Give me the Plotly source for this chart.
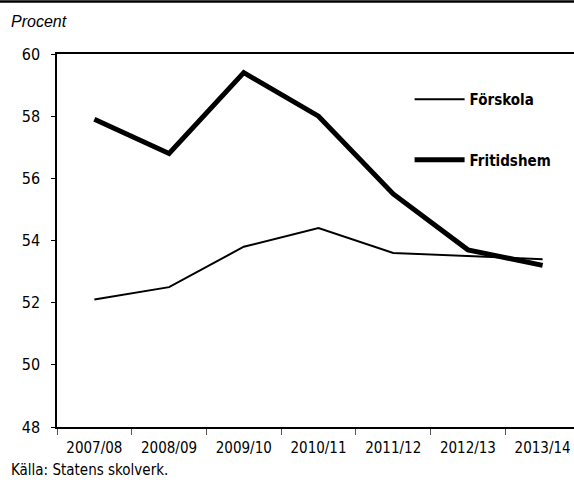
"""Andel inskrivna barn i förskola och fritidshem, 2007/08–2013/14."""

import plotly.graph_objects as go

SEASONS = ["2007/08", "2008/09", "2009/10", "2010/11", "2011/12", "2012/13", "2013/14"]
FORSKOLA = [52.1, 52.5, 53.8, 54.4, 53.6, 53.5, 53.4]
FRITIDSHEM = [57.9, 56.8, 59.4, 58.0, 55.5, 53.7, 53.2]
Y_TICKS = [48, 50, 52, 54, 56, 58, 60]

NARROW = "Liberation Sans Narrow, DejaVu Sans Condensed, Roboto Condensed, sans-serif"
BLACK = "#000000"

W, H = 574, 484
M_L, M_R, M_T, M_B = 57, 0, 54, 57
PW, PH = W - M_L - M_R, H - M_T - M_B

fig = go.Figure()
fig.add_trace(
    go.Scatter(
        x=SEASONS,
        y=FORSKOLA,
        name="<b>Förskola</b>",
        mode="lines",
        line=dict(color=BLACK, width=2),
        legendgroup="a",
    )
)
fig.add_trace(
    go.Scatter(
        x=SEASONS,
        y=FRITIDSHEM,
        name="<b>Fritidshem</b>",
        mode="lines",
        line=dict(color=BLACK, width=5),
        legendgroup="b",
    )
)

fig.update_layout(
    width=W,
    height=H,
    margin=dict(l=M_L, r=M_R, t=M_T, b=M_B, autoexpand=False),
    paper_bgcolor="white",
    plot_bgcolor="white",
    font=dict(family=NARROW, size=15, color=BLACK),
    showlegend=True,
    legend=dict(
        x=0.682,
        y=0.922,
        xanchor="left",
        yanchor="top",
        bgcolor="rgba(0,0,0,0)",
        itemwidth=50,
        tracegroupgap=38,
        traceorder="grouped",
        font=dict(family=NARROW, size=15, color=BLACK),
    ),
    xaxis=dict(
        type="category",
        range=[-0.5, 6.42],
        showgrid=False,
        showline=True,
        linecolor=BLACK,
        linewidth=1.5,
        mirror=True,
        ticks="outside",
        tickson="boundaries",
        ticklen=6,
        tickcolor="#555555",
        ticklabelstandoff=6,
        tickfont=dict(family=NARROW, size=15),
        zeroline=False,
    ),
    yaxis=dict(
        range=[48, 60],
        tickvals=Y_TICKS,
        showgrid=False,
        showline=True,
        linecolor=BLACK,
        linewidth=1.5,
        ticks="outside",
        ticklen=4,
        tickcolor=BLACK,
        ticklabelstandoff=8,
        tickfont=dict(family=NARROW, size=16),
        zeroline=False,
    ),
)

# top border across the whole page
fig.add_shape(
    type="line",
    xref="paper",
    yref="paper",
    x0=-M_L / PW,
    x1=1,
    y0=1 + (M_T - 1.5) / PH,
    y1=1 + (M_T - 1.5) / PH,
    line=dict(color=BLACK, width=2.5),
)

fig.add_annotation(
    text="<i>Procent</i>",
    xref="paper",
    yref="paper",
    x=-(M_L - 9) / PW,
    y=1 + (M_T - 22) / PH,
    xanchor="left",
    yanchor="middle",
    showarrow=False,
    font=dict(family="Liberation Sans, Arial, sans-serif", size=16, color=BLACK),
)

fig.add_annotation(
    text="Källa: Statens skolverk.",
    xref="paper",
    yref="paper",
    x=-(M_L - 9) / PW,
    y=-(470 - (H - M_B)) / PH,
    xanchor="left",
    yanchor="middle",
    showarrow=False,
    font=dict(family=NARROW, size=15, color=BLACK),
)

fig.write_html(
    "out.html",
    config={"displayModeBar": False},
    post_script="document.body.style.margin = '0';",
)
